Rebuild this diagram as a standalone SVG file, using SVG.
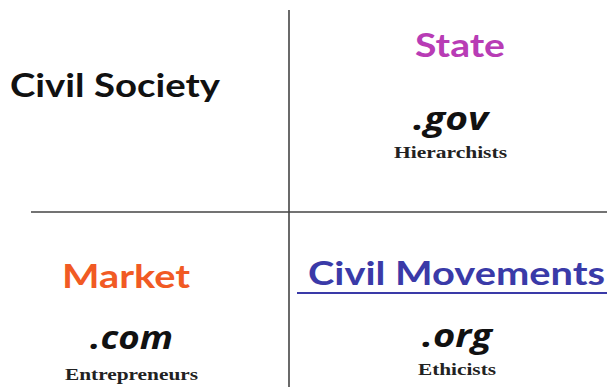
<svg xmlns="http://www.w3.org/2000/svg" width="607" height="387" viewBox="0 0 607 387">
<style>
.h{font-family:Lato,"Open Sans","Liberation Sans",sans-serif;font-weight:bold;font-size:33px}
.d{font-family:"Open Sans","Liberation Sans",sans-serif;font-weight:bold;font-style:italic;font-size:32px;fill:#111}
.s{font-family:"Liberation Serif","Times New Roman",serif;font-weight:bold;font-size:16.5px;fill:#222}
.grid{stroke:#444;stroke-width:1.6;fill:none}
</style>
<rect width="607" height="387" fill="#fff"/>
<g id="connectors" class="grid">
<line x1="289" y1="10" x2="289" y2="387"/>
<line x1="31" y1="212" x2="607" y2="212"/>
</g>
<g id="civil-society">
<text class="h" x="10" y="97" fill="#111" textLength="210" lengthAdjust="spacingAndGlyphs">Civil Society</text>
</g>
<g id="state">
<text class="h" x="415" y="57" fill="#b83cb5" textLength="90" lengthAdjust="spacingAndGlyphs">State</text>
<text class="d" x="413" y="130" textLength="75" lengthAdjust="spacingAndGlyphs">.gov</text>
<text class="s" x="394" y="158" textLength="113" lengthAdjust="spacingAndGlyphs">Hierarchists</text>
</g>
<g id="market">
<text class="h" x="62" y="288" fill="#f15a24" textLength="128" lengthAdjust="spacingAndGlyphs">Market</text>
<text class="d" x="90" y="349" textLength="83" lengthAdjust="spacingAndGlyphs">.com</text>
<text class="s" x="65" y="380" textLength="133" lengthAdjust="spacingAndGlyphs">Entrepreneurs</text>
</g>
<g id="civil-movements">
<text class="h" x="308" y="285" fill="#3a3aa8" textLength="297" lengthAdjust="spacingAndGlyphs">Civil Movements</text>
<line x1="297" y1="293" x2="607" y2="293" stroke="#3a3aa8" stroke-width="2"/>
<text class="d" x="422" y="347" textLength="70" lengthAdjust="spacingAndGlyphs">.org</text>
<text class="s" x="418" y="375" textLength="78" lengthAdjust="spacingAndGlyphs">Ethicists</text>
</g>
</svg>
